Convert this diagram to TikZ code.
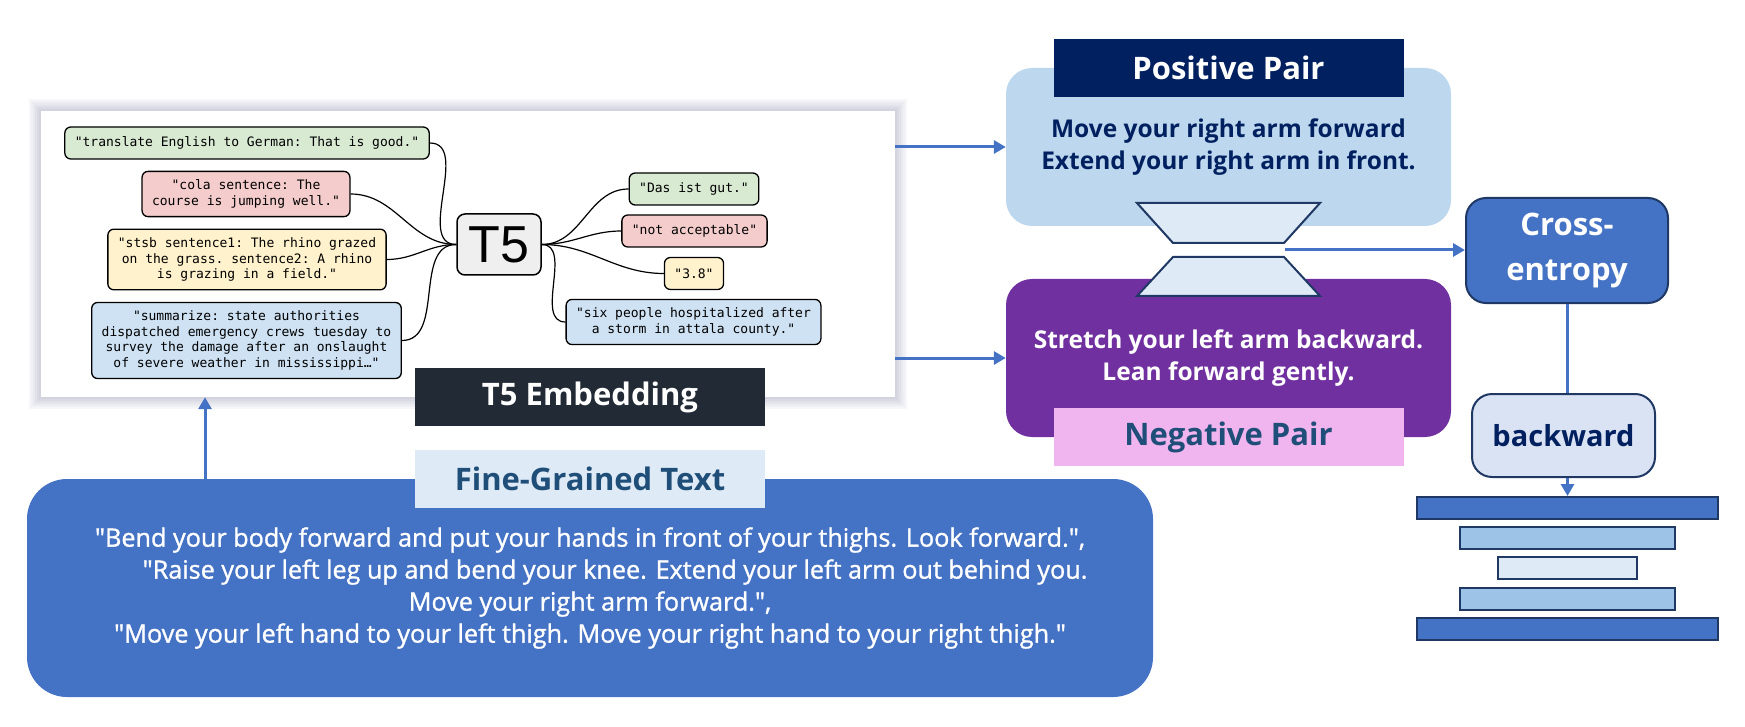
\documentclass[tikz,border=0pt]{standalone}
\usepackage{fontspec}
\setmainfont{Open Sans}
\setmonofont{DejaVu Sans Mono}
\newfontfamily\tfivefont{Liberation Sans}
\newfontfamily\plainui{Open Sans}[FakeBold=1.2]
\usetikzlibrary{arrows.meta, positioning, backgrounds}

\definecolor{cblue}{HTML}{4472C4}
\definecolor{cnavy}{HTML}{002060}
\definecolor{cedge}{HTML}{1F3864}
\definecolor{clight}{HTML}{BDD7EE}
\definecolor{cpale}{HTML}{DEEBF7}
\definecolor{cmid}{HTML}{9DC3E6}
\definecolor{cpurple}{HTML}{7030A0}
\definecolor{cpink}{HTML}{F0B4EE}
\definecolor{cdark}{HTML}{222A35}
\definecolor{ctext}{HTML}{1F4E79}
\definecolor{cbw}{HTML}{DAE3F3}
\definecolor{tgreen}{HTML}{D9EAD3}
\definecolor{tred}{HTML}{F4CCCC}
\definecolor{tyellow}{HTML}{FFF2CC}
\definecolor{tblue}{HTML}{CFE2F3}
\definecolor{tgray}{HTML}{EFEFEF}

\begin{document}
\begin{tikzpicture}[x=1pt, y=-1pt,
  task/.style={draw=black, line width=1.3pt, rounded corners=6pt, align=center,
    inner xsep=10pt, inner ysep=8.5pt, minimum height=32pt,
    font=\ttfamily\fontsize{13}{15.5}\selectfont},
  link/.style={line width=1.2pt},
  flow/.style={draw=cblue, line width=3pt, -{Triangle[length=12pt,width=13pt]}},
  tag/.style={minimum width=350pt, minimum height=58pt, inner sep=0pt,
    font=\bfseries\fontsize{31}{36}\selectfont},
  pairbox/.style={rounded corners=26pt, minimum width=445pt, minimum height=158pt,
    align=center, font=\bfseries\fontsize{24.5}{32}\selectfont},
  lossbox/.style={draw=cedge, line width=2pt, rounded corners=20pt, align=center},
  bar/.style={draw=cedge, line width=2pt, minimum height=22pt, inner sep=0pt}]

\useasboundingbox (0,0) rectangle (1745,727);

% T5 panel
\node (panel) [fill=white, minimum width=854pt, minimum height=286pt] at (468,254) {};
\begin{scope}[on background layer]
  \foreach \w in {4,8,...,24}
    \draw[line width=\w pt, draw=black!70!blue, opacity=0.03, yshift=-3pt]
      (panel.south west) rectangle (panel.north east);
\end{scope}

\node (in1) [task, fill=tgreen] at (247,143) {"translate English to German: That is good."};
\node (in2) [task, fill=tred] at (246,194) {"cola sentence: The\\course is jumping well."};
\node (in3) [task, fill=tyellow] at (247,259.5) {"stsb sentence1: The rhino grazed\\on the grass. sentence2: A rhino\\is grazing in a field."};
\node (in4) [task, fill=tblue] at (246.5,340.5) {"summarize: state authorities\\dispatched emergency crews tuesday to\\survey the damage after an onslaught\\of severe weather in mississippi…"};

\node (t5) [draw=black, line width=1.5pt, rounded corners=8pt, fill=tgray,
  minimum width=84pt, minimum height=61pt, inner sep=0pt,
  font=\tfivefont\fontsize{52}{52}\selectfont] at (499,244.5) {T5};

\node (out1) [task, fill=tgreen] at (694,189) {"Das ist gut."};
\node (out2) [task, fill=tred] at (694.5,231) {"not acceptable"};
\node (out3) [task, fill=tyellow] at (694,273.5) {"3.8"};
\node (out4) [task, fill=tblue] at (693.5,322) {"six people hospitalized after\\a storm in attala county."};

\foreach \i in {1,...,4} {
  \draw[link] (in\i.east) to[out=0, in=180] (t5.west);
  \draw[link] (t5.east) to[out=0, in=180] (out\i.west);
}

% fine-grained text
\node (fine) [fill=cblue, rounded corners=40pt, minimum width=1126pt, minimum height=218pt,
  text=white, align=center, font=\plainui\fontsize{25.2}{32}\selectfont] at (590,588)
  {"Bend your body forward and put your hands in front of your thighs. Look forward.",\\
   \hspace*{50pt}"Raise your left leg up and bend your knee. Extend your left arm out behind you.\\
   Move your right arm forward.",\\
   "Move your left hand to your left thigh. Move your right hand to your right thigh."};
\node (fineTag) [tag, fill=cpale, text=ctext] at (fine.north) {Fine-Grained Text};
\node (embTag) [tag, fill=cdark, text=white] at (fine.north |- panel.south) {T5 Embedding};

\coordinate (upx) at (205,0);
\draw[flow] (fine.north -| upx) -- (panel.south -| upx);

% pairs
\node (pos) [pairbox, fill=clight, text=cnavy] at (1228.5,147)
  {Move your right arm forward\\Extend your right arm in front.};
\node (neg) [pairbox, fill=cpurple, text=white] at (1228.5,358)
  {Stretch your left arm backward.\\Lean forward gently.};
\node (posTag) [tag, fill=cnavy, text=white] at (pos.north) {Positive Pair};
\node (negTag) [tag, fill=cpink, text=ctext] at (neg.south) {Negative Pair};

\draw[flow] (panel.east |- pos.west) -- (pos.west);
\draw[flow] (panel.east |- neg.west) -- (neg.west);

\filldraw[fill=cpale, draw=cedge, line width=2pt]
  (1137,203) -- (1320,203) -- (1284,243) -- (1173,243) -- cycle;
\filldraw[fill=cpale, draw=cedge, line width=2pt]
  (1173,257) -- (1284,257) -- (1320,296) -- (1137,296) -- cycle;

% loss and layers
\node (ce) [lossbox, fill=cblue, text=white, minimum width=202pt, minimum height=105pt,
  font=\bfseries\fontsize{31}{45}\selectfont] at (1567,250.5) {Cross-\\entropy};
\node (bw) [lossbox, fill=cbw, text=cnavy, minimum width=183pt, minimum height=83pt,
  font=\bfseries\fontsize{29}{34}\selectfont] at (1563.5,435.5) {backward};

\coordinate (gap) at (1285,250);
\draw[flow] (gap) -- (gap -| ce.west);
\draw[draw=cblue, line width=3pt] (ce.south) -- (ce.south |- bw.north);

\foreach \n/\y/\w/\c in {1/508/301/cblue, 2/538/215/cmid, 3/568/139/cpale,
                        4/598.5/215/cmid, 5/629/301/cblue}
  \node (bar\n) [bar, fill=\c, minimum width=\w pt] at (1567.5,\y) {};

\draw[flow] (bar1.north |- bw.south) -- (bar1.north);
\end{tikzpicture}
\end{document}
